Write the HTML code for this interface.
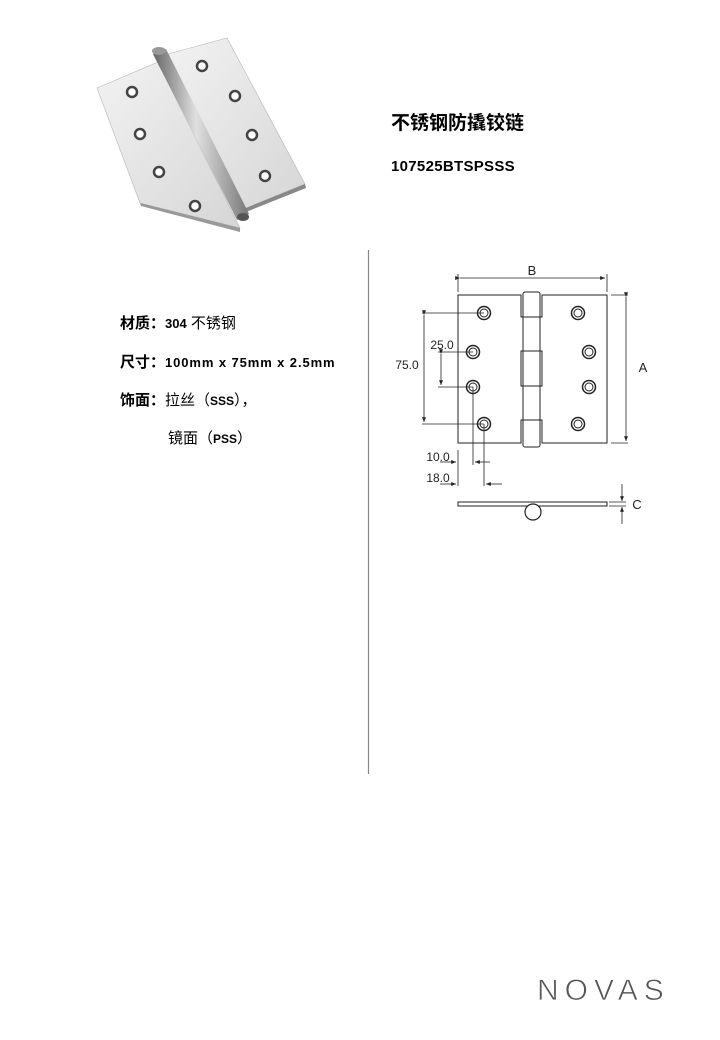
<!DOCTYPE html>
<html><head><meta charset="utf-8"><style>
html,body{margin:0;padding:0;background:#fff}
body{width:720px;height:1040px;position:relative;overflow:hidden;font-family:"Liberation Sans","Noto Sans CJK SC",sans-serif;color:#000}
.t{position:absolute;white-space:nowrap}
</style></head><body>
<svg width="720" height="1040" style="position:absolute;left:0;top:0">
<defs>
<linearGradient id="lf" x1="0" y1="0" x2="1" y2="1"><stop offset="0" stop-color="#f2f2f2"/><stop offset="1" stop-color="#d6d6d6"/></linearGradient>
<linearGradient id="pin" x1="0" y1="0" x2="1" y2="0"><stop offset="0" stop-color="#666"/><stop offset="0.45" stop-color="#e0e0e0"/><stop offset="1" stop-color="#777"/></linearGradient>
<marker id="ar" markerWidth="6" markerHeight="6" refX="6" refY="3" orient="auto"><path d="M0,0.5 L6,3 L0,5.5z" fill="#222"/></marker>
</defs>
<polygon points="97,88 158,62 240,228 140,203" fill="url(#lf)" stroke="#b5b5b5" stroke-width="0.6"/>
<polygon points="140,203 240,228 240,232 141,206" fill="#999"/>
<polygon points="168,54 227,38 305,184 246,208" fill="url(#lf)" stroke="#b5b5b5" stroke-width="0.6"/>
<polygon points="305,184 246,208 246,212 306,188" fill="#888"/>
<polygon points="153,54 166,49 249,214 237,220" fill="url(#pin)"/>
<ellipse cx="159" cy="51" rx="7" ry="4" fill="#999"/>
<ellipse cx="243" cy="217" rx="6" ry="4" fill="#555"/>
<g fill="#fff" stroke="#444" stroke-width="2.5">
<circle cx="132" cy="92" r="5"/><circle cx="140" cy="134" r="5"/><circle cx="159" cy="172" r="5"/><circle cx="195" cy="206" r="5"/>
<circle cx="202" cy="66" r="5"/><circle cx="235" cy="96" r="5"/><circle cx="252" cy="135" r="5"/><circle cx="265" cy="176" r="5"/>
</g>
<line x1="368.5" y1="250" x2="368.5" y2="774" stroke="#888" stroke-width="1.2"/>
<g stroke="#222" fill="none" stroke-width="1">
<path d="M458,295 H521 V317 H527 V351 H521 V386 H527 V420 H521 V443 H458 Z" fill="#fff"/>
<path d="M542,295 H607 V443 H542 V420 H536 V386 H542 V351 H536 V317 H542 Z" fill="#fff"/>
<rect x="523" y="292" width="17" height="155" rx="2" fill="#fff"/>
<line x1="523" y1="317" x2="540" y2="317"/><line x1="523" y1="351" x2="540" y2="351"/><line x1="523" y1="386" x2="540" y2="386"/><line x1="523" y1="420" x2="540" y2="420"/>
<g stroke-width="1.5"><circle cx="484" cy="313" r="6.5"/><circle cx="473" cy="352" r="6.5"/><circle cx="473" cy="387" r="6.5"/><circle cx="484" cy="424" r="6.5"/>
<circle cx="578" cy="313" r="6.5"/><circle cx="589" cy="352" r="6.5"/><circle cx="589" cy="387" r="6.5"/><circle cx="578" cy="424" r="6.5"/></g>
<g stroke-width="1"><circle cx="484" cy="313" r="4"/><circle cx="473" cy="352" r="4"/><circle cx="473" cy="387" r="4"/><circle cx="484" cy="424" r="4"/>
<circle cx="578" cy="313" r="4"/><circle cx="589" cy="352" r="4"/><circle cx="589" cy="387" r="4"/><circle cx="578" cy="424" r="4"/></g>
<g stroke-width="0.8">
<line x1="458" y1="274" x2="458" y2="292"/><line x1="607" y1="274" x2="607" y2="292"/>
<line x1="460" y1="278" x2="605" y2="278" marker-start="url(#ar)" marker-end="url(#ar)"/>
<line x1="611" y1="295" x2="628" y2="295"/><line x1="611" y1="443" x2="628" y2="443"/>
<line x1="626" y1="297" x2="626" y2="441" marker-start="url(#ar)" marker-end="url(#ar)"/>
<line x1="422" y1="313" x2="484" y2="313"/><line x1="422" y1="424" x2="484" y2="424"/>
<line x1="424" y1="315" x2="424" y2="422" marker-start="url(#ar)" marker-end="url(#ar)"/>
<line x1="438" y1="352" x2="473" y2="352"/><line x1="438" y1="387" x2="473" y2="387"/>
<line x1="441" y1="354" x2="441" y2="385" marker-start="url(#ar)" marker-end="url(#ar)"/>
<line x1="458" y1="450" x2="458" y2="486"/>
<line x1="473" y1="387" x2="473" y2="465"/><line x1="484" y1="424" x2="484" y2="486"/>
<line x1="440" y1="462" x2="456" y2="462" marker-end="url(#ar)"/>
<line x1="490" y1="462" x2="475" y2="462" marker-end="url(#ar)"/>
<line x1="440" y1="484" x2="456" y2="484" marker-end="url(#ar)"/>
<line x1="502" y1="484" x2="486" y2="484" marker-end="url(#ar)"/>
<line x1="609" y1="502" x2="626" y2="502"/><line x1="609" y1="506" x2="626" y2="506"/>
<line x1="622" y1="484" x2="622" y2="501" marker-end="url(#ar)"/>
<line x1="622" y1="524" x2="622" y2="507" marker-end="url(#ar)"/>
</g>
<rect x="458" y="502" width="149" height="4" fill="#fff" stroke-width="1"/>
<circle cx="533" cy="512" r="8" fill="#fff" stroke-width="1.2"/>
</g>
<g font-family="Liberation Sans, sans-serif" font-size="12" fill="#222">
<text x="532" y="275" text-anchor="middle" font-size="13">B</text>
<text x="643" y="372" text-anchor="middle" font-size="13">A</text>
<text x="407" y="369" text-anchor="middle">75.0</text>
<text x="442" y="349" text-anchor="middle">25.0</text>
<text x="438" y="461" text-anchor="middle">10.0</text>
<text x="438" y="482" text-anchor="middle">18.0</text>
<text x="637" y="509" text-anchor="middle" font-size="13">C</text>
</g>
<text x="537" y="1000" font-family="Liberation Sans, sans-serif" font-size="30" fill="#555" letter-spacing="6" stroke="#fff" stroke-width="0.7">NOVAS</text>
</svg>
<div class="t" style="left:391px;top:108px;font-size:19px;font-weight:bold">不锈钢防撬铰链</div>
<div class="t" style="left:391px;top:158px;font-size:15px;font-weight:bold;letter-spacing:0.3px">107525BTSPSSS</div>
<div class="t" style="left:120px;top:312px;font-size:15px"><b>材质：</b><b style="font-size:13px">304</b> 不锈钢</div>
<div class="t" style="left:120px;top:351px;font-size:15px"><b>尺寸：</b><b style="font-size:13px;letter-spacing:0.9px">100mm x 75mm x 2.5mm</b></div>
<div class="t" style="left:120px;top:389px;font-size:15px"><b>饰面：</b>拉丝（<b style="font-size:12px">SSS</b>），</div>
<div class="t" style="left:168px;top:427px;font-size:15px">镜面（<b style="font-size:12px">PSS</b>）</div>
</body></html>
